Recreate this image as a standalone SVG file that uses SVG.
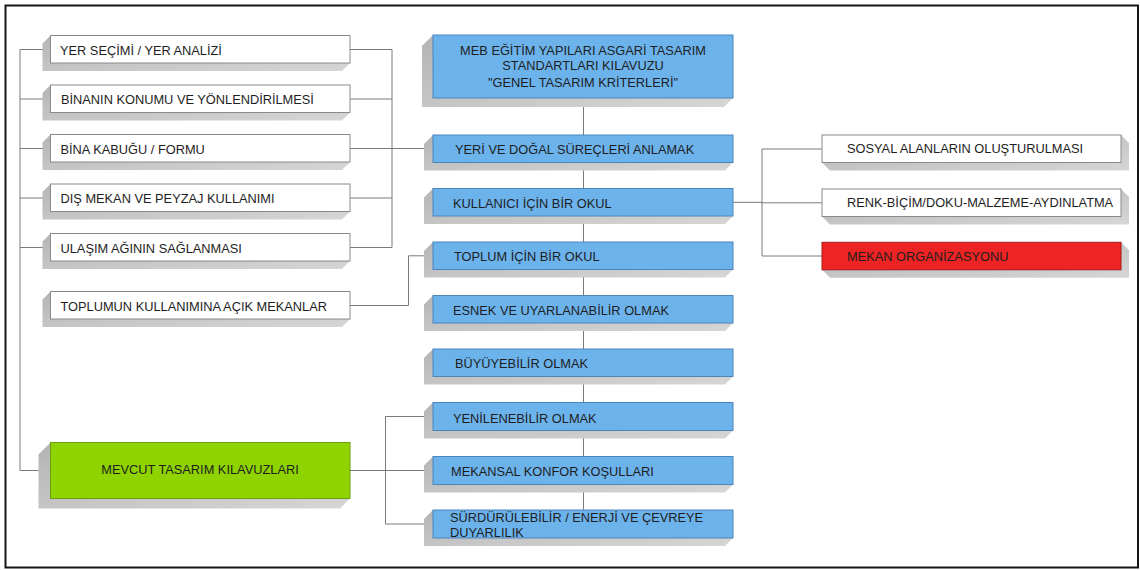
<svg xmlns="http://www.w3.org/2000/svg" width="1140" height="570" viewBox="0 0 1140 570">
<defs>
<linearGradient id="sh" x1="0" y1="0" x2="1" y2="1">
<stop offset="0" stop-color="#b4b4b4"/>
<stop offset="1" stop-color="#d6d6d6"/>
</linearGradient>
<style>
text{font-family:"Liberation Sans",Arial,sans-serif;font-size:12.8px;fill:#1e1e1e}
.shadow{fill:url(#sh)}
.white{fill:#ffffff;stroke:#8a8a8a;stroke-width:1}
.blue{fill:#6cb3ec;stroke:#4a86bb;stroke-width:1}
.green{fill:#8fd400;stroke:#6c9f10;stroke-width:1}
.red{fill:#ee2424;stroke:#a81818;stroke-width:1}
.conn{fill:none;stroke:#7a7a7a;stroke-width:1}
.c{text-anchor:middle}
</style>
</defs>
<rect x="0" y="0" width="1140" height="570" fill="#ffffff"/>
<rect x="5.5" y="5.5" width="1132.5" height="562" fill="none" stroke="#151515" stroke-width="2"/>

<g id="connectors" class="conn">
<path d="M20,49.5 V470.5 M20,49.5 H50.5 M20,99 H50.5 M20,148.5 H50.5 M20,198 H50.5 M20,247.5 H50.5 M20,470.5 H50.5"/>
<path d="M350,49.5 H392 M350,99 H392 M350,148.5 H433 M350,198 H392 M350,247.5 H392 M392,49.5 V247.5"/>
<path d="M350,305.5 H408.5 V255.8 H433"/>
<path d="M583.5,98 V510"/>
<path d="M733,202.3 H762 M762,149 V256 M762,149 H822 M762,202.8 H822 M762,256 H822"/>
<path d="M350,470.5 H433 M385.5,416.5 V524 M385.5,416.5 H433 M385.5,524 H433"/>
</g>

<g id="n-yer-secimi">
<polygon class="shadow" points="50.5,35.5 42.5,43.5 42.5,71 342,71 350,63"/>
<rect class="white" x="50.5" y="35.5" width="299.5" height="27.5"/>
<text x="60" y="54.5">YER SEÇİMİ / YER ANALİZİ</text>
</g>
<g id="n-binanin-konumu">
<polygon class="shadow" points="50.5,85 42.5,93 42.5,120.5 342,120.5 350,112.5"/>
<rect class="white" x="50.5" y="85" width="299.5" height="27.5"/>
<text x="61" y="104">BİNANIN KONUMU VE YÖNLENDİRİLMESİ</text>
</g>
<g id="n-bina-kabugu">
<polygon class="shadow" points="50.5,134.5 42.5,142.5 42.5,170 342,170 350,162"/>
<rect class="white" x="50.5" y="134.5" width="299.5" height="27.5"/>
<text x="60.5" y="153.5">BİNA KABUĞU / FORMU</text>
</g>
<g id="n-dis-mekan">
<polygon class="shadow" points="50.5,184 42.5,192 42.5,219.5 342,219.5 350,211.5"/>
<rect class="white" x="50.5" y="184" width="299.5" height="27.5"/>
<text x="60.5" y="203">DIŞ MEKAN VE PEYZAJ KULLANIMI</text>
</g>
<g id="n-ulasim">
<polygon class="shadow" points="50.5,233.5 42.5,241.5 42.5,269 342,269 350,261"/>
<rect class="white" x="50.5" y="233.5" width="299.5" height="27.5"/>
<text x="60.5" y="252.5">ULAŞIM AĞININ SAĞLANMASI</text>
</g>
<g id="n-toplumun-kullanimina">
<polygon class="shadow" points="50.5,291.5 42.5,299.5 42.5,327 342,327 350,319"/>
<rect class="white" x="50.5" y="291.5" width="299.5" height="27.5"/>
<text x="60.5" y="310.5">TOPLUMUN KULLANIMINA AÇIK MEKANLAR</text>
</g>
<g id="n-mevcut">
<polygon class="shadow" points="50.5,442.5 38.5,454.5 38.5,508.5 340,508.5 350,498.5"/>
<rect class="green" x="50.5" y="442.5" width="299.5" height="56"/>
<text class="c" x="200" y="473.5">MEVCUT TASARIM KILAVUZLARI</text>
</g>

<g id="n-meb">
<polygon class="shadow" points="433,35 422,46 422,107 724,107 733,98"/>
<rect class="blue" x="433" y="35" width="300" height="63"/>
<text class="c" x="583" y="55.2">MEB EĞİTİM YAPILARI ASGARİ TASARIM</text>
<text class="c" x="583" y="69.5">STANDARTLARI KILAVUZU</text>
<text class="c" x="583" y="86.8">"GENEL TASARIM KRİTERLERİ"</text>
</g>
<g id="n-yeri">
<polygon class="shadow" points="433,135 424,144 424,170.5 725,170.5 733,162.5"/>
<rect class="blue" x="433" y="135" width="300" height="27.5"/>
<text x="455" y="154.3">YERİ VE DOĞAL SÜREÇLERİ ANLAMAK</text>
</g>
<g id="n-kullanici">
<polygon class="shadow" points="433,188.5 424,197.5 424,224 725,224 733,216"/>
<rect class="blue" x="433" y="188.5" width="300" height="27.5"/>
<text x="453" y="208">KULLANICI İÇİN BİR OKUL</text>
</g>
<g id="n-toplum">
<polygon class="shadow" points="433,242 424,251 424,277.5 725,277.5 733,269.5"/>
<rect class="blue" x="433" y="242" width="300" height="27.5"/>
<text x="454" y="261.3">TOPLUM İÇİN BİR OKUL</text>
</g>
<g id="n-esnek">
<polygon class="shadow" points="433,295.5 424,304.5 424,331 725,331 733,323"/>
<rect class="blue" x="433" y="295.5" width="300" height="27.5"/>
<text x="453" y="314.8">ESNEK VE UYARLANABİLİR OLMAK</text>
</g>
<g id="n-buyuyebilir">
<polygon class="shadow" points="433,349 424,358 424,384.5 725,384.5 733,376.5"/>
<rect class="blue" x="433" y="349" width="300" height="27.5"/>
<text x="455" y="368.3">BÜYÜYEBİLİR OLMAK</text>
</g>
<g id="n-yenilenebilir">
<polygon class="shadow" points="433,402.5 424,411.5 424,438.5 725,438.5 733,430.5"/>
<rect class="blue" x="433" y="402.5" width="300" height="28"/>
<text x="453" y="422.5">YENİLENEBİLİR OLMAK</text>
</g>
<g id="n-mekansal">
<polygon class="shadow" points="433,456.5 424,465.5 424,492.5 725,492.5 733,484.5"/>
<rect class="blue" x="433" y="456.5" width="300" height="28"/>
<text x="451" y="476.3">MEKANSAL KONFOR KOŞULLARI</text>
</g>
<g id="n-surdurulebilir">
<polygon class="shadow" points="433,510 424,519 424,546 725,546 733,538"/>
<rect class="blue" x="433" y="510" width="300" height="28"/>
<text x="450" y="521.8">SÜRDÜRÜLEBİLİR / ENERJİ VE ÇEVREYE</text>
<text x="450" y="536.8">DUYARLILIK</text>
</g>

<g id="n-sosyal">
<polygon class="shadow" points="1121,135 1129,143 1129,170.5 830,170.5 822,162.5"/>
<rect class="white" x="822" y="135" width="299" height="27.5"/>
<text x="847" y="153.4">SOSYAL ALANLARIN OLUŞTURULMASI</text>
</g>
<g id="n-renk">
<polygon class="shadow" points="1121,189 1129,197 1129,224.5 830,224.5 822,216.5"/>
<rect class="white" x="822" y="189" width="299" height="27.5"/>
<text x="847" y="207.4">RENK-BİÇİM/DOKU-MALZEME-AYDINLATMA</text>
</g>
<g id="n-mekan-org">
<polygon class="shadow" points="1121,242.3 1129,250.3 1129,277.8 830,277.8 822,269.8"/>
<rect class="red" x="822" y="242.3" width="299" height="27.5"/>
<text x="847" y="260.8">MEKAN ORGANİZASYONU</text>
</g>
</svg>
